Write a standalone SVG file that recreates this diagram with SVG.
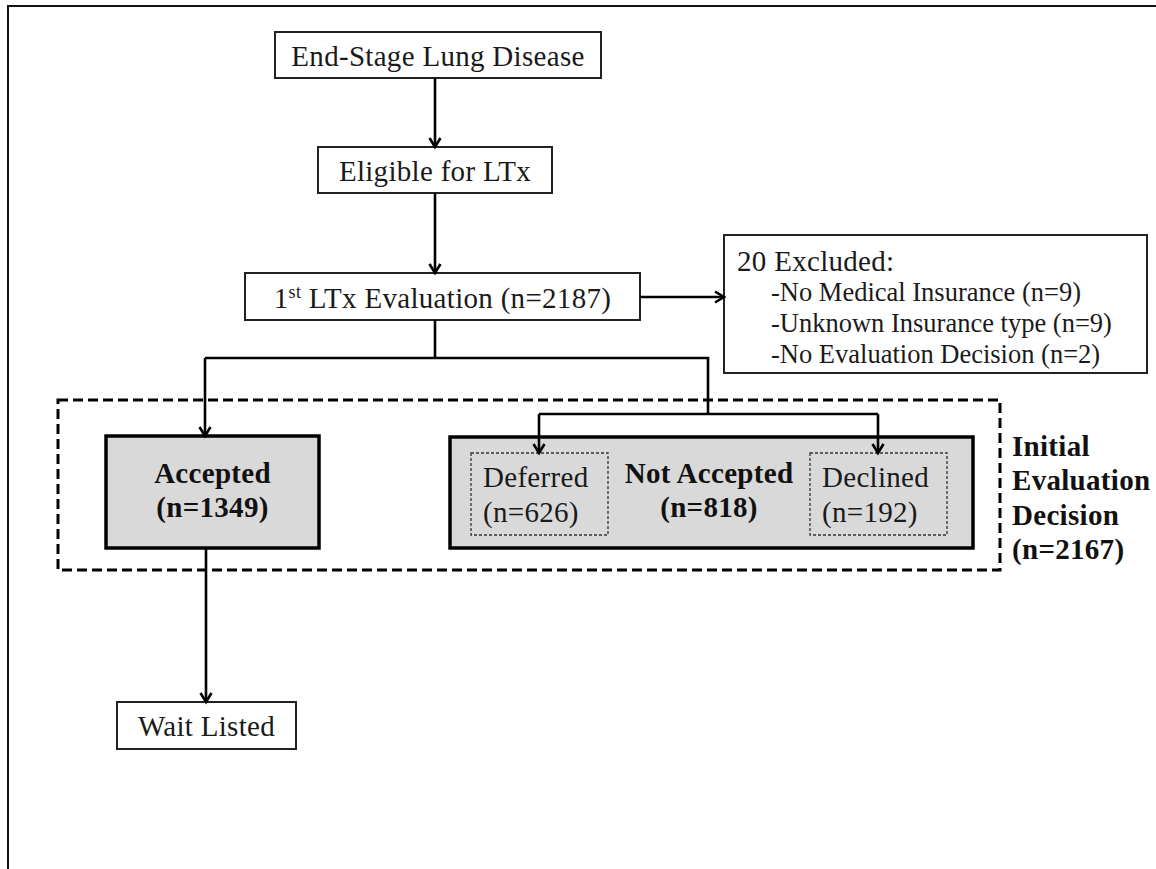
<svg xmlns="http://www.w3.org/2000/svg" width="1156" height="869" viewBox="0 0 1156 869">
<defs>
<marker id="arr" markerUnits="userSpaceOnUse" markerWidth="16" markerHeight="16" viewBox="0 0 16 16" refX="13" refY="8" orient="auto">
<path d="M4,2.5 L13,8 L4,13.5" fill="none" stroke="#000" stroke-width="2.6"/>
</marker>
</defs>
<style>
.box{fill:#fff;stroke:#222;stroke-width:2}
.gbox{fill:#d9d9d9;stroke:#000;stroke-width:3.5}
.dot{fill:none;stroke:#333;stroke-width:1.3;stroke-dasharray:3 2}
.dash{fill:none;stroke:#000;stroke-width:3;stroke-dasharray:10 5}
.ln{fill:none;stroke:#000;stroke-width:2.6}
.t{font-family:"Liberation Serif","Times New Roman",serif;font-size:29px;fill:#1a1a1a;letter-spacing:0.3px}
.tm{text-anchor:middle}
.b{font-weight:bold;fill:#111}
.ex{font-family:"Liberation Serif","Times New Roman",serif;font-size:26.5px;fill:#1a1a1a}
</style>
<rect width="1156" height="869" fill="#fff"/>
<path d="M8,869 V6 H1156" fill="none" stroke="#111" stroke-width="2"/>

<g id="decision-group">
<rect class="dash" x="58" y="400" width="942" height="170"/>
<text class="t b" x="1012" y="456">Initial</text>
<text class="t b" x="1012" y="490">Evaluation</text>
<text class="t b" x="1012" y="525">Decision</text>
<text class="t b" x="1012" y="559">(n=2167)</text>
</g>

<g id="end-stage">
<rect class="box" x="275" y="32" width="326" height="46"/>
<text class="t tm" x="438" y="66">End-Stage Lung Disease</text>
</g>

<g id="eligible">
<rect class="box" x="318" y="147" width="234" height="46"/>
<text class="t tm" x="435" y="181">Eligible for LTx</text>
</g>

<g id="first-eval">
<rect class="box" x="245" y="273" width="395" height="47"/>
<text class="t tm" x="442.5" y="308">1<tspan font-size="18" dy="-10">st</tspan><tspan dy="10"> LTx Evaluation (n=2187)</tspan></text>
</g>

<g id="excluded">
<rect class="box" x="724" y="235" width="423" height="138"/>
<text class="t" x="737" y="271">20 Excluded:</text>
<text class="ex" x="771" y="301">-No Medical Insurance (n=9)</text>
<text class="ex" x="771" y="332">-Unknown Insurance type (n=9)</text>
<text class="ex" x="771" y="363">-No Evaluation Decision (n=2)</text>
</g>

<g id="accepted">
<rect class="gbox" x="106" y="436" width="213" height="112"/>
<text class="t tm b" x="212.5" y="483">Accepted</text>
<text class="t tm b" x="212.5" y="517">(n=1349)</text>
</g>

<g id="not-accepted">
<rect class="gbox" x="450" y="437" width="523" height="111"/>
<text class="t tm b" x="709" y="483">Not Accepted</text>
<text class="t tm b" x="709" y="517">(n=818)</text>
</g>

<g id="deferred">
<rect class="dot" x="471" y="453" width="137" height="82"/>
<text class="t" x="483" y="487">Deferred</text>
<text class="t" x="483" y="522">(n=626)</text>
</g>

<g id="declined">
<rect class="dot" x="810" y="453" width="137" height="82"/>
<text class="t" x="822" y="487">Declined</text>
<text class="t" x="822" y="522">(n=192)</text>
</g>

<g id="wait-listed">
<rect class="box" x="117" y="702" width="179" height="47"/>
<text class="t tm" x="206.5" y="736">Wait Listed</text>
</g>

<g id="connectors">
<path class="ln" d="M435,78 V147" marker-end="url(#arr)"/>
<path class="ln" d="M435,193 V273" marker-end="url(#arr)"/>
<path class="ln" d="M640,297 H724" marker-end="url(#arr)"/>
<path class="ln" d="M435,320 V358 M205,358 H708 V414 M539,414 H878"/>
<path class="ln" d="M205,358 V436" marker-end="url(#arr)"/>
<path class="ln" d="M539,414 V453" marker-end="url(#arr)"/>
<path class="ln" d="M878,414 V453" marker-end="url(#arr)"/>
<path class="ln" d="M206,548 V702" marker-end="url(#arr)"/>
</g>
</svg>
